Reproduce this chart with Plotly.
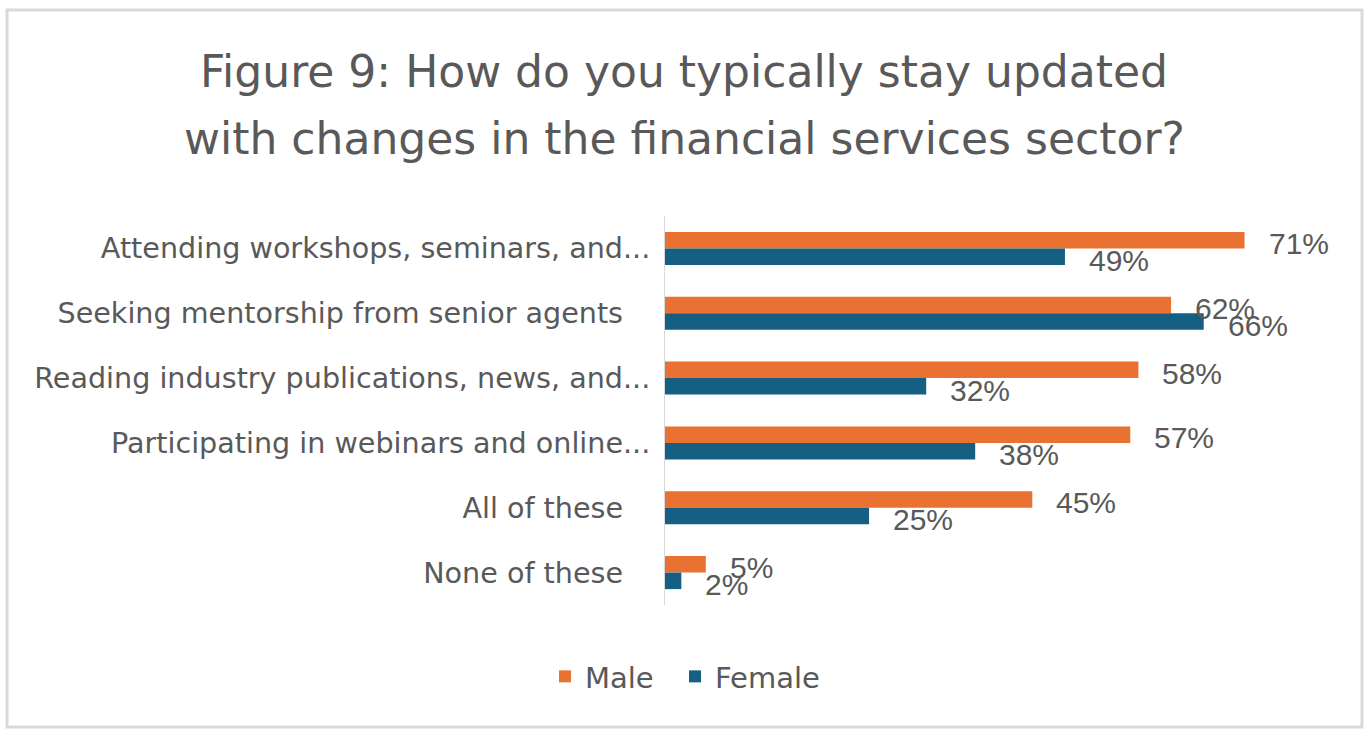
import plotly.graph_objects as go

# Survey responses by gender (% of respondents)
categories = [
    "Attending workshops, seminars, and...",
    "Seeking mentorship from senior agents\u00a0\u00a0\u00a0",
    "Reading industry publications, news, and...",
    "Participating in webinars and online...",
    "All of these\u00a0\u00a0\u00a0",
    "None of these\u00a0\u00a0\u00a0",
]
male = [71, 62, 58, 57, 45, 5]
female = [49, 66, 32, 38, 25, 2]
male_labels = ["71%", "62%", "58%", "57%", "45%", "5%"]
female_labels = ["49%", "66%", "32%", "38%", "25%", "2%"]
title_lines = [
    "Figure 9: How do you typically stay updated",
    "with changes in the financial services sector?",
]

MALE_COLOR = "#E97132"
FEMALE_COLOR = "#156082"
TEXT_COLOR = "#595959"
LABEL_FONT = "DejaVu Sans"
VALUE_FONT = "Liberation Sans"

# plot area geometry in pixels
W, H = 1364, 729
ML, MR, MT, MB = 665, 46, 216, 124
PW, PH = W - ML - MR, H - MT - MB

fig = go.Figure()
fig.add_trace(go.Bar(name="Male", y=categories, x=male, orientation="h",
                     marker=dict(color=MALE_COLOR, line=dict(width=0)),
                     legend="legend", showlegend=True))
fig.add_trace(go.Bar(name="Female", y=categories, x=female, orientation="h",
                     marker=dict(color=FEMALE_COLOR, line=dict(width=0)),
                     legend="legend2", showlegend=True))

# Value labels sit a little right of each bar end
annotations = []
for cat, v, t in zip(categories, male, male_labels):
    annotations.append(dict(x=v, y=cat, text=t, xref="x", yref="y",
                            xanchor="left", yanchor="middle", xshift=22, yshift=5,
                            showarrow=False,
                            font=dict(family=VALUE_FONT, size=30, color=TEXT_COLOR)))
for cat, v, t in zip(categories, female, female_labels):
    annotations.append(dict(x=v, y=cat, text=t, xref="x", yref="y",
                            xanchor="left", yanchor="middle", xshift=22, yshift=-12,
                            showarrow=False,
                            font=dict(family=VALUE_FONT, size=30, color=TEXT_COLOR)))

# Two-line chart title, centred on the page
for line, y_px in zip(title_lines, [72, 138]):
    annotations.append(dict(text=line, xref="paper", yref="paper",
                            x=(W / 2 + 2 - ML) / PW, y=(H - MB - y_px) / PH,
                            xanchor="center", yanchor="middle", showarrow=False,
                            font=dict(family=LABEL_FONT, size=44, color=TEXT_COLOR)))

legend_style = dict(orientation="h", xref="container", xanchor="left",
                    yref="container", y=0.072, yanchor="middle",
                    font=dict(family=LABEL_FONT, size=29, color=TEXT_COLOR))

fig.update_layout(
    width=W, height=H,
    paper_bgcolor="white", plot_bgcolor="white",
    margin=dict(l=ML, r=MR, t=MT, b=MB),
    barmode="group", bargap=0.49, bargroupgap=0,
    xaxis=dict(range=[0, 80], showgrid=False, zeroline=False, showticklabels=False,
               showline=False, ticks=""),
    yaxis=dict(autorange="reversed", showgrid=False, zeroline=False,
               showline=True, linecolor="#D9D9D9", linewidth=1, ticks="",
               ticklabelstandoff=8,
               tickfont=dict(family=LABEL_FONT, size=28.6, color=TEXT_COLOR)),
    legend=dict(x=545 / W, **legend_style),
    legend2=dict(x=675 / W, **legend_style),
    annotations=annotations,
)

# Light grey frame around the whole chart
fig.add_shape(type="rect", xref="paper", yref="paper",
              x0=-658 / PW, x1=1 + 44 / PW, y0=-122 / PH, y1=1 + 206 / PH,
              line=dict(color="#D9D9D9", width=3), layer="below")

fig.write_html("out.html")
